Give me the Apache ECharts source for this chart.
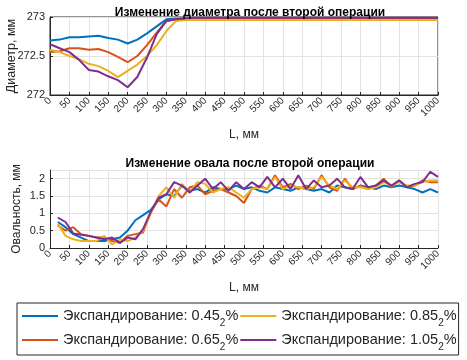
<!DOCTYPE html>
<html>
<head>
<meta charset="utf-8">
<script src="https://cdn.jsdelivr.net/npm/echarts@6/dist/echarts.min.js"></script>
<style>
  html, body { margin: 0; padding: 0; background: #fff; }
  #chart { width: 467px; height: 360px; }
</style>
</head>
<body>
<div id="chart"></div>
<script>
// степени экспандирования
const levels = ['0.45', '0.65', '0.85', '1.05'];
const colors = ['#0072BD', '#D95319', '#EDB120', '#7E2F8E'];

// диаметр (шаг 25 мм)
const xDiam = [0, 25, 50, 75, 100, 125, 150, 175, 200, 225, 250, 275, 300, 325, 350, 375, 400, 425, 450, 475, 500,
    525, 550, 575, 600, 625, 650, 675, 700, 725, 750, 775, 800, 825, 850, 875, 900, 925, 950, 975, 1000];
const diam045 = [272.70, 272.71, 272.74, 272.74, 272.75, 272.76, 272.73, 272.71, 272.66, 272.71, 272.79, 272.88, 272.97, 272.98, 272.98,
    272.98, 272.985, 272.985, 272.985, 272.985, 272.985, 272.985, 272.985, 272.985, 272.985, 272.985, 272.985, 272.985, 272.985, 272.985,
    272.985, 272.985, 272.985, 272.985, 272.985, 272.985, 272.985, 272.985, 272.985, 272.985, 272.985];
const diam065 = [272.55, 272.56, 272.60, 272.60, 272.58, 272.59, 272.55, 272.49, 272.42, 272.50, 272.64, 272.80, 272.95, 272.97, 272.975,
    272.975, 272.975, 272.975, 272.975, 272.975, 272.975, 272.975, 272.975, 272.975, 272.975, 272.975, 272.975, 272.975, 272.975, 272.975,
    272.975, 272.975, 272.975, 272.975, 272.975, 272.975, 272.975, 272.975, 272.975, 272.975, 272.975];
const diam085 = [272.58, 272.55, 272.50, 272.46, 272.40, 272.37, 272.31, 272.23, 272.31, 272.39, 272.50, 272.64, 272.82, 272.95, 272.96,
    272.96, 272.96, 272.96, 272.96, 272.96, 272.96, 272.96, 272.96, 272.96, 272.96, 272.96, 272.96, 272.96, 272.96, 272.96,
    272.96, 272.96, 272.96, 272.96, 272.96, 272.96, 272.96, 272.96, 272.96, 272.96, 272.96];
const diam105 = [272.65, 272.60, 272.55, 272.45, 272.32, 272.30, 272.24, 272.19, 272.10, 272.23, 272.48, 272.78, 272.95, 272.97, 272.985,
    272.99, 272.99, 272.99, 272.99, 272.99, 272.99, 272.99, 272.99, 272.99, 272.99, 272.99, 272.99, 272.99, 272.99, 272.99,
    272.99, 272.99, 272.99, 272.99, 272.99, 272.99, 272.99, 272.99, 272.99, 272.99, 272.99];

// овальность (шаг 20 мм)
const xOval = [20, 40, 60, 80, 100, 120, 140, 160, 180, 200, 220, 240, 260, 280, 300, 320, 340, 360, 380, 400,
    420, 440, 460, 480, 500, 520, 540, 560, 580, 600, 620, 640, 660, 680, 700, 720, 740, 760, 780, 800,
    820, 840, 860, 880, 900, 920, 940, 960, 980, 1000];
const oval045 = [0.75, 0.6, 0.4, 0.3, 0.2, 0.2, 0.2, 0.25, 0.3, 0.5, 0.8, 0.95, 1.1, 1.4, 1.55, 1.5, 1.8, 1.65, 1.7, 1.6,
    1.75, 1.7, 1.7, 1.8, 1.7, 1.75, 1.65, 1.6, 1.75, 1.7, 1.65, 1.75, 1.7, 1.65, 1.7, 1.6, 1.8, 1.75, 1.7, 1.8,
    1.75, 1.7, 1.8, 1.75, 1.8, 1.75, 1.7, 1.6, 1.7, 1.6];
const oval065 = [0.65, 0.5, 0.6, 0.4, 0.35, 0.3, 0.3, 0.2, 0.15, 0.35, 0.4, 0.45, 1.05, 1.4, 1.2, 1.7, 1.45, 1.75, 1.8, 1.55,
    1.65, 1.7, 1.6, 1.5, 1.3, 1.7, 1.8, 1.7, 2.1, 1.75, 1.85, 1.7, 1.8, 1.7, 2.1, 1.75, 1.65, 2.0, 1.7, 1.8,
    1.7, 1.8, 2.0, 1.75, 1.95, 1.75, 1.8, 1.95, 1.9, 1.9];
const oval085 = [0.7, 0.35, 0.25, 0.2, 0.2, 0.2, 0.35, 0.1, 0.25, 0.2, 0.3, 0.5, 1.0, 1.5, 1.75, 1.45, 1.85, 1.6, 1.9, 1.85,
    1.6, 1.7, 1.75, 1.6, 1.45, 1.7, 1.75, 1.7, 2.05, 1.7, 1.8, 1.75, 1.7, 1.75, 2.05, 1.8, 1.7, 1.95, 1.75, 1.75,
    1.7, 1.75, 1.9, 1.8, 1.9, 1.8, 1.8, 1.9, 1.95, 1.95];
const oval105 = [0.88, 0.75, 0.42, 0.38, 0.35, 0.3, 0.25, 0.3, 0.15, 0.3, 0.25, 0.55, 1.05, 1.45, 1.55, 1.9, 1.8, 1.6, 1.8, 2.0,
    1.7, 1.9, 1.65, 1.9, 1.7, 1.9, 1.75, 2.05, 1.75, 2.0, 1.7, 2.1, 1.7, 1.95, 1.75, 1.8, 2.0, 1.75, 1.7, 2.05,
    1.75, 1.8, 1.95, 1.8, 1.95, 1.75, 1.85, 1.9, 2.2, 2.05];

const diamSeries = [diam045, diam065, diam085, diam105];
const ovalSeries = [oval045, oval065, oval085, oval105];

const txt = '#262626';
const font = 'Liberation Sans, Arial, sans-serif';

function pairs(xs, ys) {
    return xs.map((x, i) => [x, ys[i]]);
}

function xAxisFor(gridIndex) {
    return {
        type: 'value', gridIndex: gridIndex, min: 0, max: 1000, interval: 50,
        name: 'L, мм', nameLocation: 'middle', nameGap: 34, nameMoveOverlap: false,
        nameTextStyle: { color: txt, fontSize: 12, fontFamily: font },
        axisLine: { lineStyle: { color: txt } },
        axisTick: { show: true, length: 3, inside: true, lineStyle: { color: txt } },
        axisLabel: { rotate: 45, color: txt, fontSize: 10, fontFamily: font, margin: 4, formatter: v => String(v) },
        splitLine: { show: true, lineStyle: { color: '#e3e3e3' } }
    };
}

const chart = echarts.init(document.getElementById('chart'));

const series = [];
levels.forEach((lv, i) => {
    const name = 'Экспандирование: ' + lv;
    series.push({
        name: name, type: 'line', xAxisIndex: 0, yAxisIndex: 0, symbol: 'none',
        data: pairs(xDiam, diamSeries[i]), lineStyle: { width: 2, color: colors[i] },
        itemStyle: { color: colors[i] }
    });
    series.push({
        name: name, type: 'line', xAxisIndex: 1, yAxisIndex: 1, symbol: 'none',
        data: pairs(xOval, ovalSeries[i]), lineStyle: { width: 2, color: colors[i] },
        itemStyle: { color: colors[i] }
    });
});

chart.setOption({
    backgroundColor: '#fff',
    animation: false,
    title: [
        { text: 'Изменение диаметра после второй операции', left: 245, top: 2, textAlign: 'center',
          textStyle: { fontSize: 12, fontWeight: 'bold', color: '#000', fontFamily: font } },
        { text: 'Изменение овала после второй операции', left: 245, top: 153, textAlign: 'center',
          textStyle: { fontSize: 12, fontWeight: 'bold', color: '#000', fontFamily: font } }
    ],
    grid: [
        { left: 50, right: 29, top: 17, height: 78, show: true, borderColor: txt, borderWidth: 1,
          containLabel: false, outerBoundsMode: 'none' },
        { left: 50, right: 29, top: 170, height: 78, containLabel: false, outerBoundsMode: 'none' }
    ],
    xAxis: [xAxisFor(0), xAxisFor(1)],
    yAxis: [
        {
            type: 'value', gridIndex: 0, min: 272, max: 273, interval: 0.5,
            name: 'Диаметр, мм', nameLocation: 'middle', nameGap: 32, nameMoveOverlap: false,
            nameTextStyle: { color: txt, fontSize: 12.5, fontFamily: font },
            axisLine: { show: true, lineStyle: { color: txt } },
            axisTick: { show: true, length: 3, inside: true, lineStyle: { color: txt } },
            axisLabel: { color: txt, fontSize: 11, fontFamily: font, margin: 5 },
            splitLine: { show: true, lineStyle: { color: '#e3e3e3' } }
        },
        {
            type: 'value', gridIndex: 1, min: 0, max: 2.25, interval: 0.5,
            name: 'Овальность, мм', nameLocation: 'middle', nameGap: 27, nameMoveOverlap: false,
            nameTextStyle: { color: txt, fontSize: 12, fontFamily: font },
            axisLine: { show: true, lineStyle: { color: txt } },
            axisTick: { show: true, length: 3, inside: true, lineStyle: { color: txt } },
            axisLabel: { color: txt, fontSize: 11, fontFamily: font, margin: 5, showMaxLabel: false },
            splitLine: { show: true, lineStyle: { color: '#e3e3e3' } }
        }
    ],
    legend: {
        data: ['Экспандирование: 0.45', 'Экспандирование: 0.85', 'Экспандирование: 0.65', 'Экспандирование: 1.05'],
        left: 17, top: 303, width: 438, orient: 'horizontal',
        padding: [3, 2, 3, 5], itemGap: 2,
        borderColor: txt, borderWidth: 1,
        icon: 'rect', itemWidth: 36, itemHeight: 2,
        formatter: name => '{a|' + name + '}{s|2}{a|%}',
        textStyle: {
            color: txt, fontFamily: font,
            rich: {
                a: { fontSize: 14.5, lineHeight: 24, color: txt, fontFamily: font },
                s: { fontSize: 10, lineHeight: 24, color: txt, fontFamily: font, verticalAlign: 'bottom', padding: [12, 0, 0, 0] }
            }
        }
    },
    series: series
});
</script>
</body>
</html>
